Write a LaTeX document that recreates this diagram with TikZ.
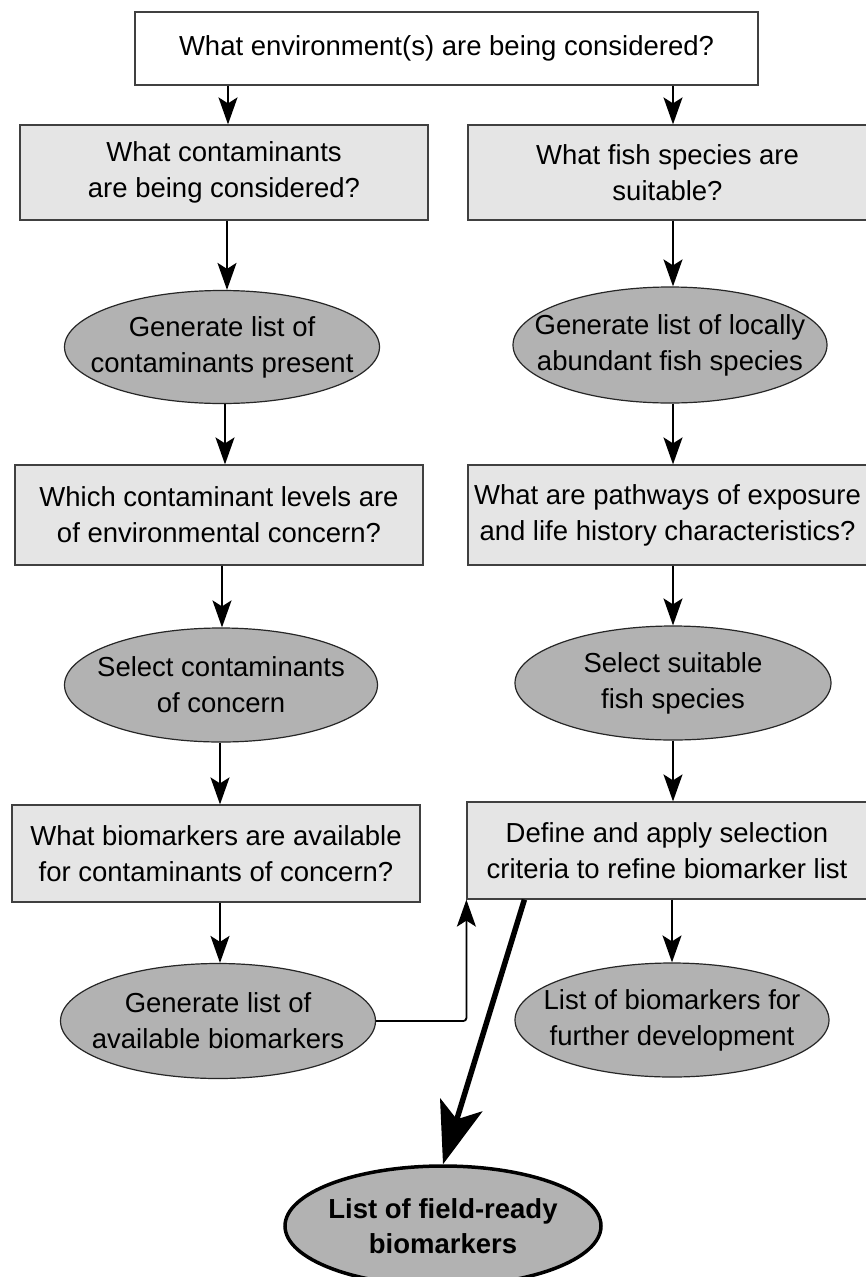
\documentclass[tikz,border=0pt]{standalone}
\usepackage{fontspec}
\setmainfont{Liberation Sans}
\usetikzlibrary{shapes.geometric,arrows.meta}
\begin{document}
\begin{tikzpicture}[x=1pt,y=-1pt,
  base/.style={align=center,inner sep=0pt,font=\fontsize{27.5}{36}\selectfont},
  qbox/.style={base,rectangle,draw=black!75,line width=1.2pt,fill=black!10},
  oval/.style={ellipse,inner sep=0pt,draw=black!85,line width=1.2pt,fill=black!30,
    label={[base]center:#1}},
  arr/.style={line width=1.8pt,-{Stealth[length=27pt,width=19pt,inset=6pt]}},
  bigarr/.style={line width=5.5pt,-{Stealth[length=62pt,width=44pt,inset=15pt]}}]
\useasboundingbox (0,0) rectangle (866,1277);
\fill[white] (0,0) rectangle (866,1277);
% top
\node[qbox,fill=white,minimum width=623pt,minimum height=73pt] (top) at (446.5,48.5) {What environment(s) are being considered?};
% left column
\node[qbox,minimum width=408pt,minimum height=95pt] (l1) at (224,172.5) {What contaminants\\are being considered?};
\node[oval={Generate list of\\contaminants present},minimum width=315pt,minimum height=113pt] (e1) at (222,347) {};
\node[qbox,minimum width=408pt,minimum height=100pt] (l2) at (219,515) {Which contaminant levels are\\of environmental concern?};
\node[oval={Select contaminants\\of concern},minimum width=313pt,minimum height=114pt] (e2) at (221,685) {};
\node[qbox,minimum width=408pt,minimum height=97pt] (l3) at (216,853.5) {What biomarkers are available\\for contaminants of concern?};
\node[oval={Generate list of\\available biomarkers},minimum width=315pt,minimum height=115pt] (e3) at (218,1021) {};
% right column
\node[qbox,minimum width=399pt,minimum height=95pt] (r1) at (667.5,172.5) {What fish species are\\suitable?};
\node[oval={Generate list of locally\\abundant fish species},minimum width=314pt,minimum height=116pt] (f1) at (670,345) {};
\node[qbox,minimum width=399pt,minimum height=100pt] (r2) at (667.5,515) {What are pathways of exposure\\and life history characteristics?};
\node[oval={Select suitable\\fish species},minimum width=316pt,minimum height=114pt] (f2) at (673,683) {};
\node[qbox,minimum width=400pt,minimum height=97pt] (r3) at (667,850.5) {Define and apply selection\\criteria to refine biomarker list};
\node[oval={List of biomarkers for\\further development},minimum width=314pt,minimum height=114pt] (f3) at (672,1020) {};
% final
\node[ellipse,inner sep=0pt,draw=black,line width=3.5pt,fill=black!30,minimum width=316pt,minimum height=120pt,
  label={[base,font=\fontsize{27.5}{35}\selectfont\bfseries]center:List of field-ready\\biomarkers}] (fin) at (443,1226) {};
% connectors
\draw[arr] (top.south -| 228,0) -- (l1.north -| 228,0);
\draw[arr] (top.south -| 673,0) -- (r1.north -| 673,0);
\draw[arr] (l1.south -| 227,0) -- (e1.north -| 227,0);
\draw[arr] (r1.south -| 673,0) -- (f1.north -| 673,0);
\draw[arr] (e1.south -| 225,0) -- (l2.north -| 225,0);
\draw[arr] (f1.south -| 673,0) -- (r2.north -| 673,0);
\draw[arr] (l2.south -| 222,0) -- (e2.north -| 222,0);
\draw[arr] (r2.south -| f2.north) -- (f2.north);
\draw[arr] (e2.south -| 220,0) -- (l3.north -| 220,0);
\draw[arr] (f2.south) -- (f2.south |- r3.north);
\draw[arr] (l3.south -| 220,0) -- (e3.north -| 220,0);
\draw[arr] (r3.south -| f3.north) -- (f3.north);
\draw[arr,rounded corners=3pt] (e3.east) -| (r3.south west);
\draw[bigarr] ([xshift=58pt]r3.south west) -- (fin.north);
\end{tikzpicture}
\end{document}
